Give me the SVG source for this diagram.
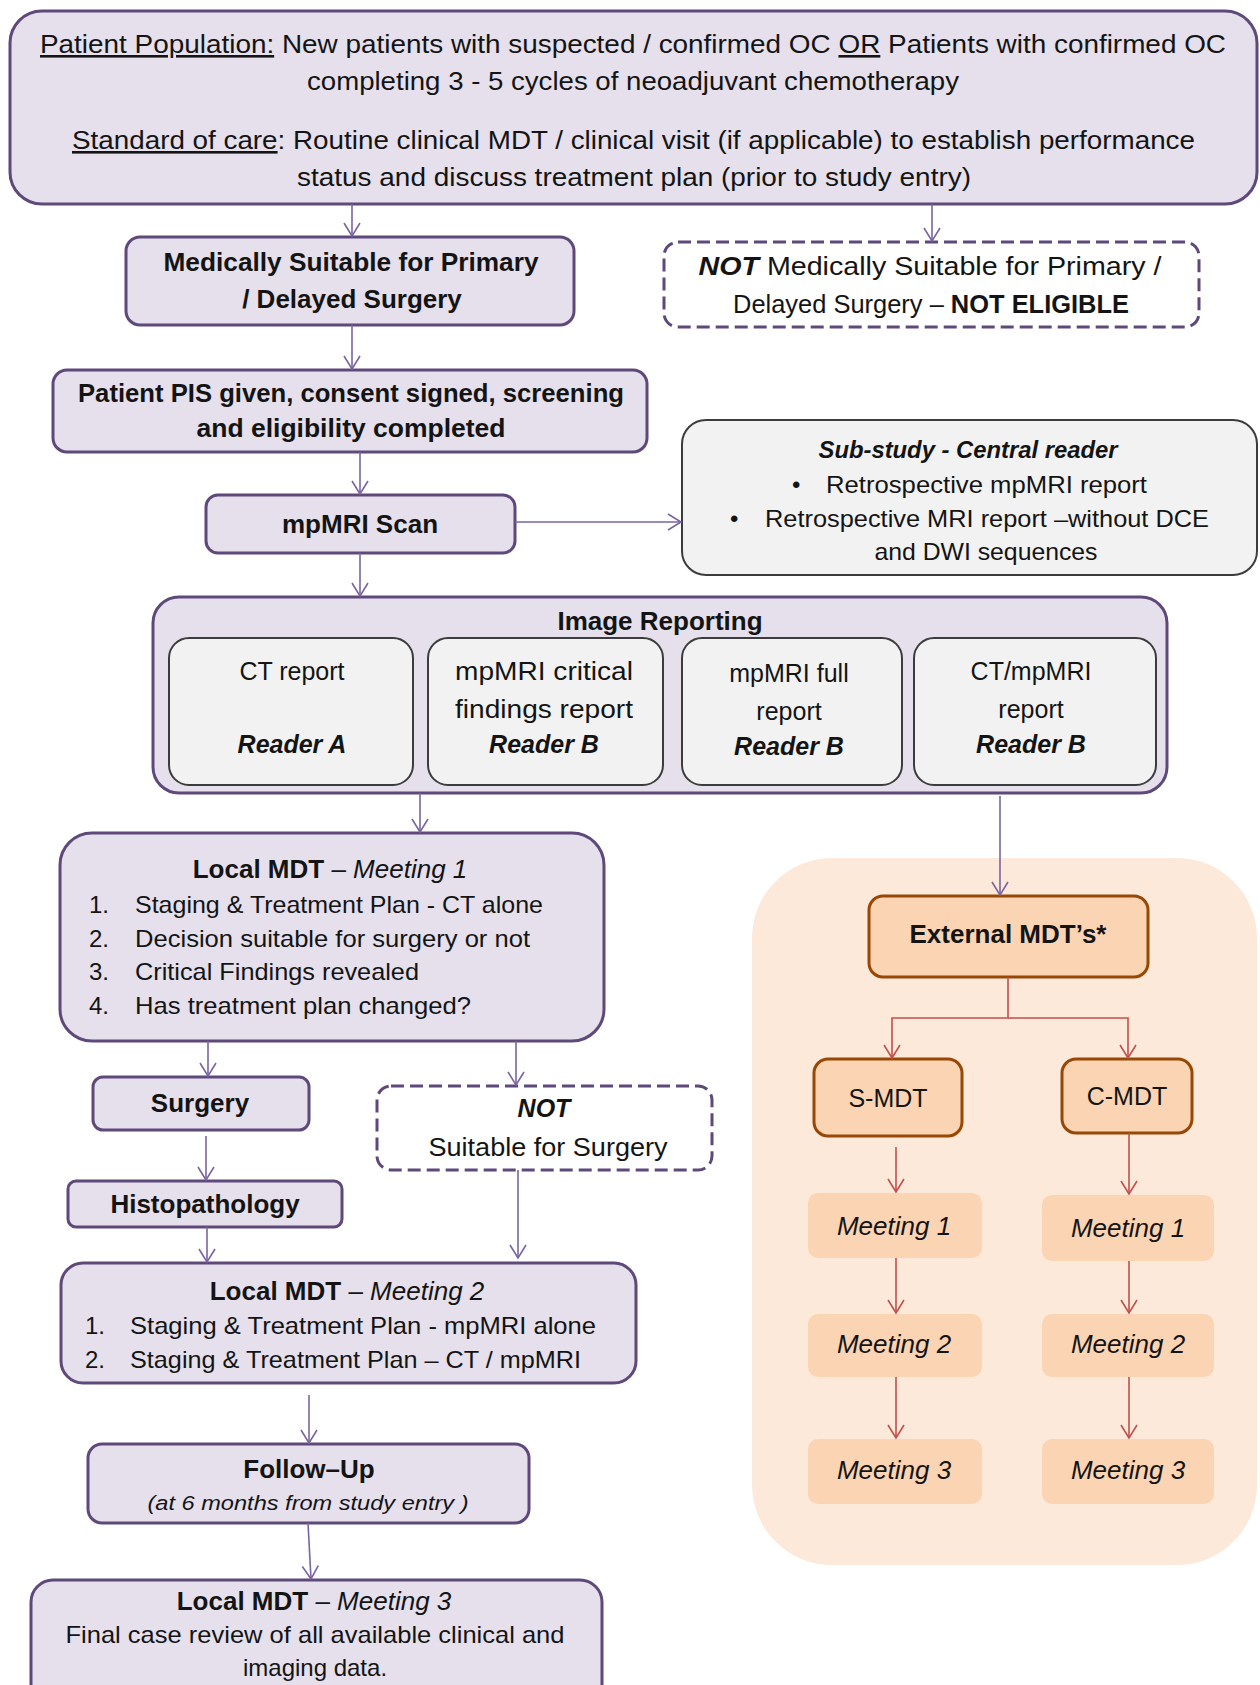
<svg xmlns="http://www.w3.org/2000/svg" width="1260" height="1685" viewBox="0 0 1260 1685">
<style>
text{font-family:"Liberation Sans",Arial,sans-serif;fill:#141414}
.p{fill:#e5e0ec;stroke:#5f497a;stroke-width:3}
.g{fill:#f2f2f2;stroke:#3c3c3c;stroke-width:2}
.d{fill:#ffffff;stroke:#5f497a;stroke-width:3;stroke-dasharray:13 6}
.o{fill:#fbd4b4;stroke:#984806;stroke-width:3}
.m{fill:#fbd4b4}
.bg{fill:#fde9d9}
.c{fill:none;stroke:#7a64a0;stroke-width:1.6}
.r{fill:none;stroke:#c0504d;stroke-width:1.6}
.s26{font-size:26px}
.s25{font-size:25px}
.s24{font-size:24px}
.s23{font-size:23px}
.b{font-weight:bold}
.i{font-style:italic}
.u{text-decoration:underline}
.mid{text-anchor:middle}
</style>
<defs>
<marker id="ap" viewBox="-15 -10 17 20" refX="0" refY="0" markerWidth="17" markerHeight="20" markerUnits="userSpaceOnUse" orient="auto">
<path d="M-13,-8 L0,0 L-13,8" fill="none" stroke="#7a64a0" stroke-width="1.6"/>
</marker>
<marker id="ar" viewBox="-15 -10 17 20" refX="0" refY="0" markerWidth="17" markerHeight="20" markerUnits="userSpaceOnUse" orient="auto">
<path d="M-13,-8 L0,0 L-13,8" fill="none" stroke="#c0504d" stroke-width="1.6"/>
</marker>
</defs>
<rect width="1260" height="1685" fill="#ffffff"/>

<g id="external-region">
<rect class="bg" x="752" y="858" width="505" height="707" rx="80"/>
</g>

<g id="top">
<rect class="p" x="10" y="11" width="1247" height="193" rx="32"/>
<text class="s26" x="40" y="53" textLength="1186" lengthAdjust="spacingAndGlyphs"><tspan class="u">Patient Population:</tspan> New patients with suspected  / confirmed  OC <tspan class="u">OR</tspan> Patients with confirmed  OC</text>
<text class="s26" x="307" y="90" textLength="652" lengthAdjust="spacingAndGlyphs">completing  3 - 5 cycles of neoadjuvant  chemotherapy</text>
<text class="s26" x="72" y="149" textLength="1123" lengthAdjust="spacingAndGlyphs"><tspan class="u">Standard of care</tspan>: Routine clinical  MDT / clinical  visit  (if applicable)  to establish  performance</text>
<text class="s26" x="297" y="186" textLength="674" lengthAdjust="spacingAndGlyphs">status and discuss  treatment plan (prior  to study entry)</text>
</g>

<g id="medically-suitable">
<rect class="p" x="126" y="237" width="448" height="88" rx="14"/>
<text class="s26 b mid" x="351" y="271" textLength="375" lengthAdjust="spacingAndGlyphs">Medically  Suitable for Primary</text>
<text class="s26 b mid" x="352" y="308">/ Delayed Surgery</text>
</g>

<g id="not-medically-suitable">
<rect class="d" x="664" y="242" width="535" height="85" rx="14"/>
<text class="s26 mid" x="930" y="275" textLength="463" lengthAdjust="spacingAndGlyphs"><tspan class="b i">NOT</tspan>  Medically  Suitable  for  Primary  /</text>
<text class="s26 mid" x="931" y="313" textLength="396" lengthAdjust="spacingAndGlyphs">Delayed Surgery – <tspan class="b">NOT ELIGIBLE</tspan></text>
</g>

<g id="pis">
<rect class="p" x="53" y="370" width="594" height="82" rx="14"/>
<text class="s26 b mid" x="351" y="402" textLength="546" lengthAdjust="spacingAndGlyphs">Patient PIS given, consent signed, screening</text>
<text class="s26 b mid" x="351" y="437" textLength="309" lengthAdjust="spacingAndGlyphs">and eligibility  completed</text>
</g>

<g id="sub-study">
<rect class="g" x="682" y="420" width="575" height="155" rx="24"/>
<text class="s24 b i mid" x="968" y="458" textLength="299" lengthAdjust="spacingAndGlyphs">Sub-study - Central reader</text>
<text class="s24" x="792" y="493">•</text>
<text class="s24" x="826" y="493" textLength="321" lengthAdjust="spacingAndGlyphs">Retrospective mpMRI  report</text>
<text class="s24" x="730" y="527">•</text>
<text class="s24" x="765" y="527" textLength="444" lengthAdjust="spacingAndGlyphs">Retrospective MRI report –without DCE</text>
<text class="s24 mid" x="986" y="560" textLength="223" lengthAdjust="spacingAndGlyphs">and DWI sequences</text>
</g>

<g id="mpmri-scan">
<rect class="p" x="206" y="495" width="309" height="58" rx="12"/>
<text class="s26 b mid" x="360" y="533">mpMRI Scan</text>
</g>

<g id="image-reporting">
<rect class="p" x="153" y="597" width="1014" height="196" rx="26"/>
<text class="s26 b mid" x="660" y="630">Image Reporting</text>
</g>

<g id="ct-report">
<rect class="g" x="169" y="638" width="244" height="147" rx="20"/>
<text class="s25 mid" x="292" y="680">CT report</text>
<text class="s25 b i mid" x="292" y="753">Reader A</text>
</g>

<g id="mpmri-critical">
<rect class="g" x="428" y="638" width="235" height="147" rx="20"/>
<text class="s25 mid" x="544" y="680" textLength="178" lengthAdjust="spacingAndGlyphs">mpMRI  critical</text>
<text class="s25 mid" x="544" y="718" textLength="178" lengthAdjust="spacingAndGlyphs">findings  report</text>
<text class="s25 b i mid" x="544" y="753">Reader B</text>
</g>

<g id="mpmri-full">
<rect class="g" x="682" y="638" width="220" height="147" rx="20"/>
<text class="s25 mid" x="789" y="682">mpMRI  full</text>
<text class="s25 mid" x="789" y="720">report</text>
<text class="s25 b i mid" x="789" y="755">Reader B</text>
</g>

<g id="ct-mpmri">
<rect class="g" x="914" y="638" width="242" height="147" rx="20"/>
<text class="s25 mid" x="1031" y="680">CT/mpMRI</text>
<text class="s25 mid" x="1031" y="718">report</text>
<text class="s25 b i mid" x="1031" y="753">Reader B</text>
</g>

<g id="local-mdt-1">
<rect class="p" x="60" y="833" width="544" height="208" rx="32"/>
<text class="s26 mid" x="330" y="878"><tspan class="b">Local MDT</tspan> – <tspan class="i">Meeting 1</tspan></text>
<text class="s24" x="89" y="913">1.</text>
<text class="s24" x="135" y="913" textLength="408" lengthAdjust="spacingAndGlyphs">Staging &amp; Treatment  Plan - CT alone</text>
<text class="s24" x="89" y="947">2.</text>
<text class="s24" x="135" y="947" textLength="395" lengthAdjust="spacingAndGlyphs">Decision suitable for surgery or not</text>
<text class="s24" x="89" y="980">3.</text>
<text class="s24" x="135" y="980" textLength="284" lengthAdjust="spacingAndGlyphs">Critical Findings revealed</text>
<text class="s24" x="89" y="1014">4.</text>
<text class="s24" x="135" y="1014" textLength="336" lengthAdjust="spacingAndGlyphs">Has treatment  plan changed?</text>
</g>

<g id="surgery">
<rect class="p" x="93" y="1077" width="216" height="53" rx="10"/>
<text class="s26 b mid" x="200" y="1112">Surgery</text>
</g>

<g id="not-suitable-surgery">
<rect class="d" x="377" y="1086" width="335" height="84" rx="14"/>
<text class="s25 b i mid" x="544" y="1117">NOT</text>
<text class="s25 mid" x="548" y="1156" textLength="239" lengthAdjust="spacingAndGlyphs">Suitable  for  Surgery</text>
</g>

<g id="histopathology">
<rect class="p" x="68" y="1181" width="274" height="46" rx="8"/>
<text class="s26 b mid" x="205" y="1213">Histopathology</text>
</g>

<g id="local-mdt-2">
<rect class="p" x="61" y="1263" width="575" height="120" rx="22"/>
<text class="s26 mid" x="347" y="1300"><tspan class="b">Local MDT</tspan> – <tspan class="i">Meeting 2</tspan></text>
<text class="s24" x="85" y="1334">1.</text>
<text class="s24" x="130" y="1334" textLength="466" lengthAdjust="spacingAndGlyphs">Staging &amp; Treatment  Plan - mpMRI alone</text>
<text class="s24" x="85" y="1368">2.</text>
<text class="s24" x="130" y="1368" textLength="451" lengthAdjust="spacingAndGlyphs">Staging &amp; Treatment  Plan – CT  /  mpMRI</text>
</g>

<g id="follow-up">
<rect class="p" x="88" y="1444" width="441" height="79" rx="14"/>
<text class="s26 b mid" x="309" y="1478">Follow–Up</text>
<text class="i mid" font-size="20" x="308" y="1510" textLength="321" lengthAdjust="spacingAndGlyphs">(at 6 months from study entry )</text>
</g>

<g id="local-mdt-3">
<rect class="p" x="31" y="1580" width="571" height="130" rx="22"/>
<text class="s26 mid" x="314" y="1610"><tspan class="b">Local MDT</tspan> –  <tspan class="i">Meeting 3</tspan></text>
<text class="s24 mid" x="315" y="1643" textLength="499" lengthAdjust="spacingAndGlyphs">Final case review of all available clinical and</text>
<text class="s24 mid" x="315" y="1676">imaging data.</text>
</g>

<g id="external-mdts">
<rect class="o" x="869" y="896" width="279" height="81" rx="14"/>
<text class="s26 b mid" x="1008" y="943">External MDT’s*</text>
</g>

<g id="s-mdt">
<rect class="o" x="814" y="1059" width="148" height="77" rx="14"/>
<text class="s25 mid" x="888" y="1107">S-MDT</text>
</g>

<g id="c-mdt">
<rect class="o" x="1062" y="1059" width="130" height="74" rx="14"/>
<text class="s25 mid" x="1127" y="1105">C-MDT</text>
</g>

<g id="s-meeting-1">
<rect class="m" x="808" y="1193" width="174" height="65" rx="10"/>
<text class="s26 i mid" x="894" y="1235">Meeting 1</text>
</g>
<g id="s-meeting-2">
<rect class="m" x="808" y="1314" width="174" height="63" rx="10"/>
<text class="s26 i mid" x="894" y="1353">Meeting 2</text>
</g>
<g id="s-meeting-3">
<rect class="m" x="808" y="1439" width="174" height="65" rx="10"/>
<text class="s26 i mid" x="894" y="1479">Meeting 3</text>
</g>
<g id="c-meeting-1">
<rect class="m" x="1042" y="1195" width="172" height="66" rx="10"/>
<text class="s26 i mid" x="1128" y="1237">Meeting 1</text>
</g>
<g id="c-meeting-2">
<rect class="m" x="1042" y="1314" width="172" height="63" rx="10"/>
<text class="s26 i mid" x="1128" y="1353">Meeting 2</text>
</g>
<g id="c-meeting-3">
<rect class="m" x="1042" y="1439" width="172" height="65" rx="10"/>
<text class="s26 i mid" x="1128" y="1479">Meeting 3</text>
</g>

<g id="connectors">
<path class="c" marker-end="url(#ap)" d="M352,204 V236"/>
<path class="c" marker-end="url(#ap)" d="M932,204 V241"/>
<path class="c" marker-end="url(#ap)" d="M352,325 V369"/>
<path class="c" marker-end="url(#ap)" d="M360,452 V494"/>
<path class="c" marker-end="url(#ap)" d="M515,522 H681"/>
<path class="c" marker-end="url(#ap)" d="M360,553 V596"/>
<path class="c" marker-end="url(#ap)" d="M420,793 V832"/>
<path class="c" marker-end="url(#ap)" d="M1000,796 V895"/>
<path class="c" marker-end="url(#ap)" d="M208,1041 V1076"/>
<path class="c" marker-end="url(#ap)" d="M516,1041 V1085"/>
<path class="c" marker-end="url(#ap)" d="M206,1136 V1180"/>
<path class="c" marker-end="url(#ap)" d="M518,1170 V1258"/>
<path class="c" marker-end="url(#ap)" d="M207,1227 V1262"/>
<path class="c" marker-end="url(#ap)" d="M309,1395 V1443"/>
<path class="c" marker-end="url(#ap)" d="M308,1523 L311,1579"/>
<path class="r" marker-end="url(#ar)" d="M1008,977 V1018 H892 V1058"/>
<path class="r" marker-end="url(#ar)" d="M1008,1018 H1128 V1058"/>
<path class="r" marker-end="url(#ar)" d="M896,1147 V1192"/>
<path class="r" marker-end="url(#ar)" d="M1129,1133 V1194"/>
<path class="r" marker-end="url(#ar)" d="M896,1258 V1313"/>
<path class="r" marker-end="url(#ar)" d="M1129,1261 V1313"/>
<path class="r" marker-end="url(#ar)" d="M896,1377 V1438"/>
<path class="r" marker-end="url(#ar)" d="M1129,1377 V1438"/>
</g>
</svg>
